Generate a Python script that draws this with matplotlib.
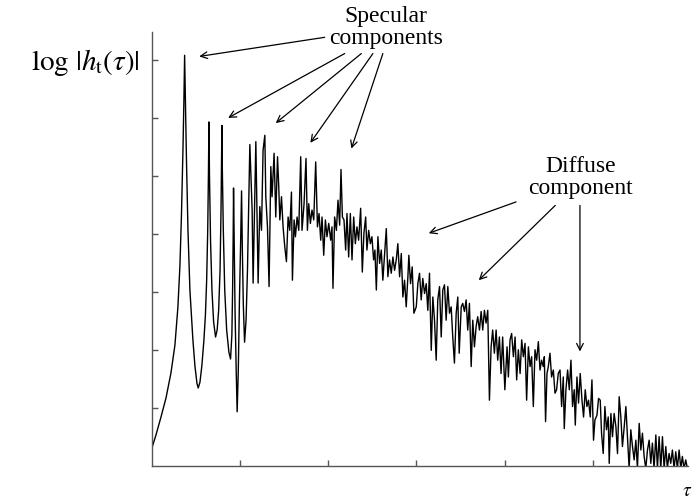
import matplotlib
matplotlib.use('Agg')
import matplotlib.pyplot as plt
import numpy as np

plt.rcParams['font.family'] = ['Liberation Serif', 'DejaVu Serif']
plt.rcParams['mathtext.fontset'] = 'stix'

# specular part: a few strong, sharp early peaks (tick units)
tau_early = [0.000, 0.045, 0.102, 0.159, 0.215, 0.260, 0.294, 0.317, 0.334, 0.351, 0.362, 0.370,
             0.379, 0.391, 0.408, 0.430, 0.464, 0.487, 0.510, 0.524, 0.544, 0.566, 0.589, 0.606,
             0.620, 0.632, 0.640, 0.646,
             0.652, 0.664, 0.680, 0.699, 0.721, 0.739, 0.756, 0.772, 0.783, 0.788, 0.793,
             0.798, 0.809, 0.825, 0.847, 0.872, 0.891, 0.906, 0.915, 0.921, 0.925,
             0.932, 0.942, 0.955, 0.966, 0.979, 0.992, 1.006, 1.016,
             1.025, 1.036, 1.050, 1.067, 1.083, 1.096, 1.110]
logh_early = [0.31, 0.53, 0.84, 1.17, 1.60, 2.08, 2.74, 3.46, 4.32, 5.44, 6.31, 7.08,
              6.31, 5.27, 4.06, 3.03, 2.17, 1.72, 1.42, 1.34, 1.44, 1.73, 2.17, 2.60,
              3.20, 4.06, 5.01, 5.93,
              5.01, 3.89, 3.03, 2.48, 2.22, 2.34, 2.68, 3.37, 4.41, 5.18, 5.87,
              5.10, 4.06, 3.03, 2.34, 1.96, 1.84, 2.25, 3.11, 3.97, 4.79,
              3.89, 2.68, 1.65, 0.93, 1.65, 2.86, 3.89, 4.74,
              3.72, 2.77, 2.13, 2.51, 3.37, 4.41, 5.54]

# dense part: diffuse tail with a few late specular spikes
tau_late = [1.136, 1.147, 1.178, 1.204, 1.223, 1.242, 1.260, 1.280, 1.291, 1.310, 1.328, 1.348,
            1.362, 1.385, 1.404, 1.424, 1.438, 1.450, 1.469, 1.487, 1.506, 1.525, 1.544, 1.563,
            1.582, 1.593, 1.612, 1.627, 1.646, 1.665, 1.687, 1.702, 1.725, 1.747, 1.763, 1.778,
            1.797, 1.815, 1.835, 1.857, 1.877, 1.895, 1.914, 1.929, 1.948, 1.967, 1.985, 2.005,
            2.027, 2.042, 2.053,
            2.072, 2.092, 2.110, 2.129, 2.144, 2.160, 2.178, 2.197, 2.212, 2.231, 2.250, 2.269,
            2.288, 2.307, 2.325, 2.344, 2.367, 2.386, 2.404, 2.424, 2.438, 2.458, 2.477, 2.495,
            2.514, 2.529, 2.545, 2.563, 2.582, 2.601, 2.619, 2.639, 2.658, 2.676, 2.695, 2.714,
            2.733, 2.752, 2.771, 2.789, 2.809, 2.828, 2.846, 2.865, 2.884, 2.903, 2.914, 2.933,
            2.952, 2.971,
            2.998, 3.016, 3.035, 3.054, 3.072, 3.092, 3.111, 3.129, 3.148, 3.168, 3.186, 3.205,
            3.224, 3.242, 3.262, 3.281, 3.299, 3.318, 3.337, 3.356, 3.375, 3.394, 3.412, 3.431,
            3.451, 3.469, 3.485, 3.508, 3.525, 3.545, 3.564, 3.582, 3.601, 3.621, 3.639, 3.658,
            3.677, 3.695, 3.715, 3.734, 3.752, 3.771, 3.790, 3.809, 3.828, 3.847, 3.865, 3.884,
            3.904, 3.922, 3.941, 3.960, 3.978, 4.003,
            4.028, 4.043, 4.062, 4.080, 4.100, 4.119, 4.137, 4.156, 4.176, 4.194, 4.213, 4.232,
            4.250, 4.270, 4.289, 4.307, 4.326, 4.345, 4.364, 4.383, 4.402, 4.420, 4.439, 4.451,
            4.465, 4.481, 4.496, 4.515, 4.533, 4.553, 4.572, 4.590, 4.609, 4.629, 4.647, 4.666,
            4.677, 4.696, 4.715, 4.734, 4.753, 4.771, 4.790, 4.802, 4.821, 4.839, 4.858, 4.878,
            4.896, 4.915, 4.934, 4.952, 4.972, 4.991, 5.009, 5.025, 5.048,
            5.066, 5.085, 5.100, 5.119, 5.138, 5.156, 5.176, 5.187, 5.206, 5.224, 5.243, 5.263,
            5.281, 5.300, 5.319, 5.337, 5.357, 5.376, 5.394, 5.413, 5.432, 5.451, 5.470, 5.489,
            5.507, 5.527, 5.546, 5.564, 5.583, 5.602, 5.621, 5.640, 5.659, 5.677, 5.696, 5.716,
            5.734, 5.753, 5.772, 5.791, 5.810, 5.829, 5.847, 5.866, 5.885, 5.904, 5.923, 5.942,
            5.960, 5.980, 5.999, 6.017, 6.036, 6.055, 6.074]
logh_late = [4.41, 3.15, 5.59, 3.15, 4.47, 4.06, 5.44, 5.70, 4.64, 4.12, 3.09, 5.16,
             4.64, 5.39, 4.29, 5.33, 4.81, 4.24, 4.64, 4.12, 3.78, 3.52, 4.29, 4.06,
             4.72, 3.20, 4.24, 3.95, 4.29, 4.06, 5.33, 4.06, 4.52, 5.30, 4.06, 4.52,
             4.18, 4.41, 4.24, 5.24, 4.12, 4.35, 3.89, 4.29, 3.63, 4.24, 3.95, 4.18,
             3.89, 4.12, 3.06,
             4.29, 4.06, 4.58, 4.15, 5.11, 4.29, 4.24, 3.72, 4.35, 3.60, 4.35, 3.55,
             4.29, 3.83, 4.12, 3.89, 4.44, 3.34, 4.01, 4.29, 3.72, 4.06, 3.83, 3.95,
             3.55, 3.72, 3.03, 3.95, 3.49, 3.72, 3.20, 3.66, 4.09, 3.26, 3.55, 3.32,
             3.60, 3.37, 3.55, 3.83, 3.26, 3.66, 2.91, 3.20, 2.74, 3.26, 3.63, 3.14,
             3.43, 2.63,
             2.74, 3.14, 3.32, 2.86, 3.23, 2.97, 3.14, 2.68, 3.32, 1.99, 2.91, 2.51,
             1.82, 2.86, 3.09, 2.22, 3.03, 3.12, 2.51, 3.09, 2.63, 2.74, 2.22, 1.77,
             2.63, 2.91, 1.94, 2.74, 2.80, 2.66, 2.86, 2.34, 2.80, 1.71, 2.51, 2.05,
             2.40, 2.57, 2.34, 2.66, 2.34, 2.68, 2.46, 2.68, 1.13, 2.05, 2.34, 1.94,
             2.34, 1.82, 2.22, 1.59, 2.22, 1.31,
             2.05, 1.53, 2.17, 2.28, 1.88, 2.22, 1.48, 2.00, 1.59, 2.17, 1.88, 2.11,
             1.13, 2.05, 1.71, 1.88, 1.02, 2.00, 1.82, 2.14, 1.65, 1.82, 1.71, 1.88,
             0.76, 1.59, 1.71, 1.94, 1.53, 1.65, 1.25, 1.31, 1.59, 1.65, 1.02, 1.53,
             0.64, 1.31, 1.65, 1.31, 1.82, 1.02, 1.31, 0.70, 1.53, 1.08, 1.59, 1.13,
             0.84, 1.31, 1.02, 1.13, 0.84, 1.48, 0.44, 0.79, 0.87,
             1.16, 1.13, 0.56, 0.21, 1.02, 0.62, 0.84, 0.04, 0.90, 0.50, 0.90, 0.67,
             0.21, 1.19, 0.84, 0.33, 0.67, 1.02, 0.50, -0.05, 0.62, 0.33, 0.10, 0.44,
             -0.05, 0.73, 0.27, 0.56, 0.16, -0.05, 0.27, 0.44, 0.04, 0.39, -0.05, 0.53,
             -0.05, 0.50, -0.05, 0.50, -0.05, 0.33, -0.05, 0.21, 0.04, 0.27, -0.05, 0.24,
             -0.05, 0.27, -0.05, 0.16, -0.05, 0.10, -0.05]

tau = tau_early + tau_late
logh = logh_early + logh_late

fig = plt.figure(figsize=(6.96, 5.03), dpi=100)
ax = fig.add_axes([0.2184, 0.0742, 0.770, 0.862])
ax.plot(tau, logh, color='black', lw=1.0)

ax.set_xlim(0, 6.08)
ax.set_ylim(0, 7.48)
for side in ['top', 'right']:
    ax.spines[side].set_visible(False)
for side in ['left', 'bottom']:
    ax.spines[side].set_color('#555555')
    ax.spines[side].set_linewidth(1.0)
ax.set_xticks([1, 2, 3, 4, 5])
ax.set_yticks([1, 2, 3, 4, 5, 6, 7])
ax.tick_params(direction='in', length=4, width=1.0, color='#555555',
               labelbottom=False, labelleft=False)

arrow = dict(arrowstyle='->', color='black', lw=0.9, shrinkA=0, shrinkB=0,
             mutation_scale=12)
# specular arrows: (tail, head)
for tail, head in [((1.959, 7.39), (0.536, 7.06)),
                   ((2.186, 7.11), (0.864, 6.00)),
                   ((2.375, 7.11), (1.404, 5.91)),
                   ((2.506, 7.11), (1.797, 5.57)),
                   ((2.619, 7.11), (2.262, 5.47))]:
    ax.annotate('', xy=head, xytext=tail, arrowprops=arrow, annotation_clip=False)
# diffuse arrows
for tail, head in [((4.130, 4.55), (3.140, 4.01)),
                   ((4.575, 4.49), (3.707, 3.20)),
                   ((4.855, 4.49), (4.855, 1.97))]:
    ax.annotate('', xy=head, xytext=tail, arrowprops=arrow, annotation_clip=False)

ax.text(2.65, 7.56, 'Specular\ncomponents', ha='center', va='center', fontsize=17,
        linespacing=1.05, clip_on=False)
ax.text(4.858, 4.97, 'Diffuse\ncomponent', ha='center', va='center', fontsize=17,
        linespacing=1.05, clip_on=False)

fig.text(85 / 696, 1 - 62 / 503, r'$\log\,|h_{\mathrm{t}}(\tau)|$', ha='center', va='center',
         fontsize=21)
fig.text(687 / 696, 3 / 503, r'$\tau$', ha='center', va='bottom', fontsize=14)

fig.savefig('out.png', dpi=100)
